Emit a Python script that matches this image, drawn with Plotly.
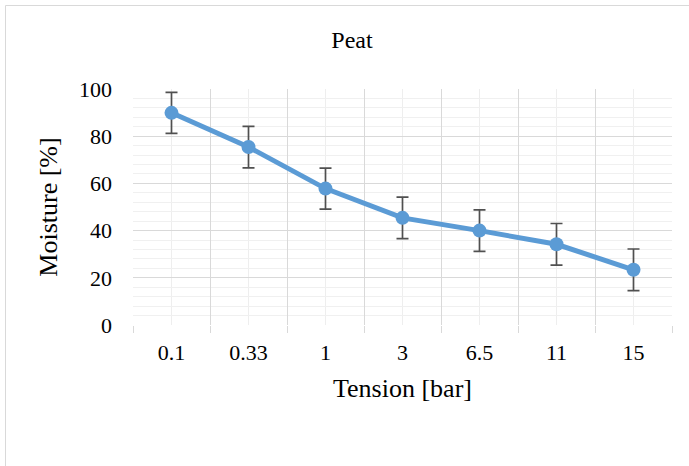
import plotly.graph_objects as go

tension = ["0.1", "0.33", "1", "3", "6.5", "11", "15"]
moisture = [89.9, 75.4, 57.8, 45.4, 40.0, 34.2, 23.4]
moisture_err = [8.7, 8.8, 8.7, 8.8, 8.8, 8.8, 8.8]

W, H = 689, 466
L, T = 133, 89
pw, ph = 539, 236
R, B = W - L - pw, H - T - ph

FONT = "Liberation Serif"

fig = go.Figure()
fig.add_trace(go.Scatter(
    x=tension, y=moisture,
    mode="lines+markers",
    line=dict(color="#5b9bd5", width=5),
    marker=dict(color="#5b9bd5", size=14),
    error_y=dict(type="data", array=moisture_err, visible=True,
                 color="#505050", thickness=1.7, width=6),
    showlegend=False,
))

shapes = []
# light gridlines at category centres (category index positions)
for i, _ in enumerate(tension):
    shapes.append(dict(type="line", xref="x", yref="paper", x0=i, x1=i, y0=0, y1=1,
                       line=dict(color="#eeeeee", width=1), layer="below"))
# outer chart border (top + left)
def px2x(px):
    return (px - L) / pw
def py2y(py):
    return (T + ph - py) / ph
shapes.append(dict(type="line", xref="paper", yref="paper",
                   x0=px2x(5.5), x1=px2x(800), y0=py2y(5.5), y1=py2y(5.5),
                   line=dict(color="#d9d9d9", width=1)))
shapes.append(dict(type="line", xref="paper", yref="paper",
                   x0=px2x(5.5), x1=px2x(5.5), y0=py2y(5.5), y1=py2y(600),
                   line=dict(color="#d9d9d9", width=1)))

fig.update_layout(
    width=W, height=H,
    margin=dict(l=L, r=R, t=T, b=B),
    paper_bgcolor="white", plot_bgcolor="white",
    font=dict(family=FONT, size=22, color="#000000"),
    title=dict(text="Peat", x=352 / W, xref="container", xanchor="center",
               y=1 - 40 / H, yref="container", yanchor="middle",
               font=dict(family=FONT, size=24, color="#000000")),
    shapes=shapes,
    xaxis=dict(
        type="category",
        range=[-0.5, len(tension) - 0.5],
        tickson="boundaries",
        tickangle=0,
        showgrid=True, gridcolor="#d9d9d9", gridwidth=1,
        ticks="outside", ticklen=7, tickcolor="#d9d9d9", tickwidth=1,
        ticklabelstandoff=12,
        showline=False, zeroline=False,
        tickfont=dict(family=FONT, size=22, color="#000000"),
        title=dict(text="Tension [bar]", standoff=14,
                   font=dict(family=FONT, size=26, color="#000000")),
    ),
    yaxis=dict(
        range=[0, 100], dtick=20, tick0=0,
        showgrid=True, gridcolor="#d9d9d9", gridwidth=1,
        zeroline=False, showline=False,
        ticks="", ticklabelstandoff=20,
        minor=dict(dtick=4, tick0=0, showgrid=True, gridcolor="#f0f0f0", gridwidth=1),
        tickfont=dict(family=FONT, size=22, color="#000000"),
        title=dict(text="Moisture [%]", standoff=13,
                   font=dict(family=FONT, size=26, color="#000000")),
    ),
)

fig.write_html("out.html", config={"displayModeBar": False},
               post_script="document.body.style.margin='0px';")
